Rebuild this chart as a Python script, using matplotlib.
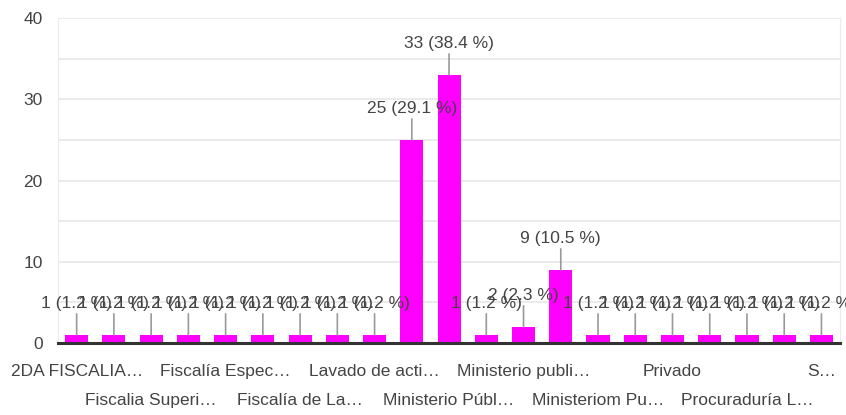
import numpy as np
import matplotlib.pyplot as plt

plt.rcParams['font.family'] = ['Liberation Sans', 'DejaVu Sans']

# respuestas por categoría (21 categorías, total 86)
counts = [1, 1, 1, 1, 1, 1, 1, 1, 1, 25, 33, 1, 2, 9, 1, 1, 1, 1, 1, 1, 1]
# etiquetas visibles del eje x (una de cada dos categorías)
tick_labels = ['2DA FISCALIA…', 'Fiscalia Superi…', 'Fiscalía Espec…',
               'Fiscalía de La…', 'Lavado de acti…', 'Ministerio Públ…',
               'Ministerio publi…', 'Ministeriom Pu…', 'Privado',
               'Procuraduría L…', 'S…']
y_ticks = [0, 10, 20, 30, 40]

total = sum(counts)
x = np.arange(len(counts))
fs = 12.5

fig = plt.figure(figsize=(8.46, 4.15), dpi=100)
ax = fig.add_axes([0.0686, 0.1735, 0.9244, 0.7831])

ax.bar(x, counts, width=0.62, color='#ff00ff', zorder=2)

# etiquetas de datos con línea guía
for xi, v in zip(x, counts):
    ax.annotate('%d (%.1f %%)' % (v, 100.0 * v / total), xy=(xi, v),
                xytext=(0, 22.5), textcoords='offset points',
                ha='center', va='center', fontsize=fs, color='#444444',
                zorder=3,
                arrowprops=dict(arrowstyle='-', color='#999999', lw=1.2,
                                shrinkA=0, shrinkB=0))

ax.set_xlim(-0.5, len(counts) - 0.5)
ax.set_ylim(0, 40)
ax.set_yticks(y_ticks)
ax.set_yticks(np.arange(0, 41, 5), minor=True)
ax.grid(True, which='both', axis='y', color='#e8e8e8', lw=1.2, zorder=0)
ax.tick_params(axis='y', which='both', length=0, pad=11, labelsize=fs,
               labelcolor='#444444')

ax.set_xticks(x[::2])
ax.set_xticklabels(tick_labels, fontsize=fs, color='#444444')
ax.tick_params(axis='x', length=0)
for i, t in enumerate(ax.xaxis.get_major_ticks()):
    t.set_pad(15 if i % 2 == 0 else 36)

for s in ['left', 'right', 'top']:
    ax.spines[s].set_color('#ececec')
ax.spines['bottom'].set_color('#333333')
ax.spines['bottom'].set_linewidth(2.2)
ax.spines['bottom'].set_zorder(4)

plt.savefig('out.png', dpi=100)
